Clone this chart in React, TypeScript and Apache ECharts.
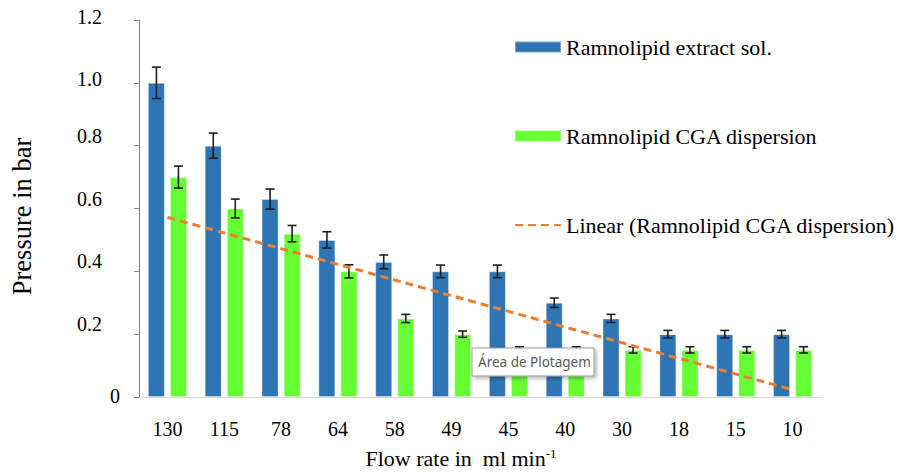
import React, { useEffect, useRef } from "react";
import * as echarts from "echarts";

const categories = ["130", "115", "78", "64", "58", "49", "45", "40", "30", "18", "15", "10"];
const extractSol = [1.0, 0.8, 0.63, 0.5, 0.43, 0.4, 0.4, 0.3, 0.25, 0.2, 0.2, 0.2];
const extractErr = [0.05, 0.04, 0.032, 0.026, 0.022, 0.02, 0.02, 0.015, 0.013, 0.012, 0.012, 0.012];
const cgaDisp = [0.7, 0.6, 0.52, 0.4, 0.25, 0.2, 0.15, 0.15, 0.15, 0.15, 0.15, 0.15];
const cgaErr = [0.035, 0.03, 0.026, 0.021, 0.013, 0.01, 0.01, 0.01, 0.01, 0.01, 0.01, 0.01];
const trendEnds = [0.572, 0.023];
const yTicks = [0, 0.2, 0.4, 0.6, 0.8, 1.0, 1.2];

const SERIF = "'Liberation Serif', 'Times New Roman', serif";
const BLUE = "#2E75B6";
const GREEN = "#66FF33";
const ORANGE = "#ED7D31";

function errorSeries(vals: number[], errs: number[], offset: number) {
  return {
    type: "custom",
    z: 5,
    silent: true,
    encode: { x: 0, y: [1, 2] },
    data: vals.map((v, i) => [i, v - errs[i], v + errs[i]]),
    renderItem: (params: any, api: any) => {
      const idx = api.value(0);
      const hi = api.coord([idx, api.value(2)]);
      const lo = api.coord([idx, api.value(1)]);
      const x = hi[0] + offset;
      const c = 4.5;
      const style = { stroke: "#1f1f1f", lineWidth: 1.6 };
      return {
        type: "group",
        children: [
          { type: "line", shape: { x1: x, y1: hi[1], x2: x, y2: lo[1] }, style },
          { type: "line", shape: { x1: x - c, y1: hi[1], x2: x + c, y2: hi[1] }, style },
          { type: "line", shape: { x1: x - c, y1: lo[1], x2: x + c, y2: lo[1] }, style },
        ],
      };
    },
  };
}

export default function App() {
  const ref = useRef<HTMLDivElement>(null);
  useEffect(() => {
    if (!ref.current) return;
    const chart = echarts.init(ref.current, undefined, { renderer: "svg" });
    const names = ["Ramnolipid extract sol.", "Ramnolipid CGA dispersion", "Linear (Ramnolipid CGA dispersion)"];
    chart.setOption({
      animation: false,
      backgroundColor: "#ffffff",
      grid: { left: 137, right: 80, top: 20, bottom: 73, containLabel: false },
      legend: {
        orient: "vertical",
        left: 514,
        top: 36,
        padding: 0,
        itemWidth: 46,
        itemHeight: 11,
        itemGap: 67,
        selectedMode: false,
        textStyle: { fontFamily: SERIF, fontSize: 22, color: "#000", lineHeight: 22 },
        data: [
          { name: names[0], icon: "rect" },
          { name: names[1], icon: "rect" },
          { name: names[2], itemStyle: { opacity: 0 } },
        ],
      },
      xAxis: {
        type: "category",
        data: categories,
        axisLine: { show: true, lineStyle: { color: "#D9D9D9", width: 1 } },
        axisTick: { show: false },
        axisLabel: { fontFamily: SERIF, fontSize: 20, color: "#000", margin: 22 },
        name: "{a|Flow rate in  ml min}{s|-1}",
        nameLocation: "middle",
        nameGap: 50,
        nameTextStyle: {
          fontFamily: SERIF,
          color: "#000",
          padding: [0, 38, 0, 0],
          rich: {
            a: { fontFamily: SERIF, fontSize: 22, color: "#000", lineHeight: 22 },
            s: { fontFamily: SERIF, fontSize: 13, color: "#000", lineHeight: 13, verticalAlign: "top" },
          },
        },
      },
      yAxis: {
        type: "value",
        min: yTicks[0],
        max: yTicks[yTicks.length - 1],
        interval: 0.2,
        splitLine: { show: false },
        axisLine: { show: true, lineStyle: { color: "#868686", width: 1 } },
        axisTick: { show: true, inside: false, length: 5, lineStyle: { color: "#868686" } },
        axisLabel: {
          margin: 19,
          formatter: (v: number) => {
            if (Math.abs(v) < 1e-9) return "{z|0}";
            const s = v.toFixed(1);
            return v > 0.95 ? `{a|${s}}` : `{b|${s}}`;
          },
          rich: {
            z: { fontFamily: SERIF, fontSize: 20, color: "#000", padding: [0, 0, 2, 0] },
            a: { fontFamily: SERIF, fontSize: 20, color: "#000", padding: [0, 18, 7, 0] },
            b: { fontFamily: SERIF, fontSize: 20, color: "#000", padding: [0, 18, 20, 0] },
          },
        },
        name: "Pressure in bar",
        nameLocation: "middle",
        nameGap: 104,
        nameTextStyle: { fontFamily: SERIF, fontSize: 26.5, color: "#000", padding: [0, 16, 0, 0] },
      },
      series: [
        {
          name: names[0],
          type: "bar",
          data: extractSol,
          barWidth: 17,
          barGap: "30%",
          itemStyle: { color: BLUE, borderColor: "rgba(255,255,255,0.35)", borderWidth: 1 },
        },
        {
          name: names[1],
          type: "bar",
          data: cgaDisp,
          barWidth: 17,
          barGap: "30%",
          itemStyle: { color: GREEN, borderColor: "rgba(255,255,255,0.35)", borderWidth: 1 },
        },
        errorSeries(extractSol, extractErr, -11),
        errorSeries(cgaDisp, cgaErr, 11),
        {
          name: names[2],
          type: "line",
          z: 6,
          symbol: "none",
          data: [
            [categories[0], trendEnds[0]],
            [categories[categories.length - 1], trendEnds[1]],
          ],
          lineStyle: { color: ORANGE, width: 3, type: [8, 5] },
          itemStyle: { color: ORANGE },
        },
      ],
      graphic: [
        {
          type: "rect",
          z: 100,
          shape: { x: 472, y: 348, width: 122, height: 28 },
          style: {
            fill: "#ffffff",
            stroke: "#9a9a9a",
            lineWidth: 1,
            shadowBlur: 4,
            shadowOffsetX: 2,
            shadowOffsetY: 2,
            shadowColor: "rgba(0,0,0,0.3)",
          },
        },
        {
          type: "text",
          z: 101,
          x: 478,
          y: 362,
          style: {
            text: "Área de Plotagem",
            fontFamily: "'Noto Sans', 'Open Sans', sans-serif",
            fontSize: 13.5,
            fill: "#595959",
            verticalAlign: "middle",
            align: "left",
          },
        },
      ],
    });
    return () => chart.dispose();
  }, []);
  return <div ref={ref} style={{ position: "fixed", left: 0, top: 0, width: 901, height: 474 }} />;
}
